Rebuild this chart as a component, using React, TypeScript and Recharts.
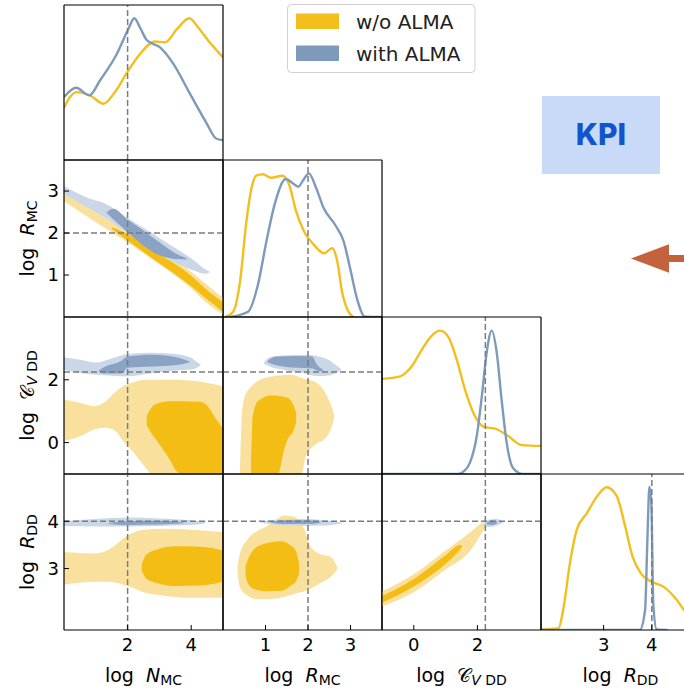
// Corner plot: posterior of MC / DD parameters, with and without ALMA.
import { Area, ComposedChart, Line, ReferenceLine, XAxis, YAxis } from "recharts";

// 1D marginals: [value, scaled density]
const NMC_WITHOUT = [[0, 0.338], [0.2, 0.41], [0.4, 0.438], [0.82, 0.417], [1.24, 0.363], [1.6, 0.438], [2.02, 0.577], [2.39, 0.684], [2.86, 0.765], [3.18, 0.759], [3.55, 0.844], [3.94, 0.915], [4.22, 0.855], [4.54, 0.769], [5, 0.662]];
const NMC_WITH = [[0, 0.406], [0.38, 0.466], [0.8, 0.417], [1.13, 0.513], [1.66, 0.684], [2.02, 0.844], [2.21, 0.915], [2.39, 0.855], [2.6, 0.774], [3.02, 0.726], [3.44, 0.62], [3.96, 0.428], [4.49, 0.235], [4.78, 0.139], [5, 0.128]];
const RMC_WITHOUT = [[0.05, 0], [0.24, 0.034], [0.4, 0.225], [0.55, 0.607], [0.67, 0.82], [0.78, 0.9], [0.94, 0.909], [1.13, 0.887], [1.4, 0.9], [1.56, 0.841], [1.71, 0.682], [1.91, 0.543], [2.14, 0.459], [2.38, 0.406], [2.57, 0.438], [2.69, 0.352], [2.8, 0.161], [2.95, 0.034], [3.07, 0]];
const RMC_WITH = [[0.16, 0], [0.59, 0.034], [0.82, 0.204], [1.02, 0.48], [1.21, 0.713], [1.48, 0.879], [1.64, 0.852], [1.77, 0.83], [1.89, 0.873], [2.02, 0.915], [2.18, 0.83], [2.37, 0.692], [2.64, 0.586], [2.84, 0.48], [2.99, 0.31], [3.15, 0.119], [3.34, 0.002], [3.74, 0]];
const CVDD_WITHOUT = [[-1, 0.606], [-0.43, 0.622], [-0.07, 0.685], [0.25, 0.791], [0.56, 0.88], [0.82, 0.913], [1.08, 0.875], [1.35, 0.728], [1.61, 0.538], [1.92, 0.369], [2.19, 0.302], [2.61, 0.285], [2.97, 0.242], [3.39, 0.184], [4, 0.179]];
const CVDD_WITH = [[-1, 0], [1.4, 0], [1.56, 0.015], [1.77, 0.074], [1.98, 0.242], [2.14, 0.496], [2.29, 0.77], [2.45, 0.913], [2.61, 0.77], [2.76, 0.475], [2.92, 0.2], [3.08, 0.053], [3.24, 0.015], [3.4, 0], [4, 0]];
const RDD_WITHOUT = [[1.71, 0.004], [2.06, 0.01], [2.16, 0.128], [2.3, 0.427], [2.44, 0.641], [2.65, 0.748], [2.86, 0.855], [3.06, 0.915], [3.27, 0.86], [3.45, 0.66], [3.6, 0.47], [3.78, 0.36], [3.99, 0.31], [4.24, 0.278], [4.52, 0.192], [4.67, 0.128], [5, 0.05]];
const RDD_WITH = [[1.7, 0], [3.75, 0], [3.86, 0.128], [3.91, 0.6], [3.95, 0.919], [3.99, 0.81], [4.03, 0.171], [4.1, 0.004], [4.33, 0]];

// 2D credible regions: [x, low, high]
const NMC_RMC_Y_OUT = [[0, 2.76, 2.97], [1, 2.26, 2.5], [2, 1.78, 2.02], [3, 1.25, 1.55], [3.5, 0.98, 1.32], [4, 0.68, 1.08], [4.5, 0.33, 0.76], [5, 0.06, 0.46]];
const NMC_RMC_Y_IN = [[1.5, 2.1, 2.14], [2, 1.82, 1.98], [3, 1.28, 1.48], [3.5, 1.02, 1.26], [4, 0.73, 0.98], [4.5, 0.42, 0.64], [5, 0.12, 0.36]];
const NMC_RMC_B_OUT = [[0, 2.93, 3.12], [0.8, 2.58, 2.82], [1.3, 2.36, 2.7], [2, 2.0, 2.36], [2.7, 1.64, 2.03], [3.2, 1.42, 1.78], [3.7, 1.22, 1.55], [4.1, 1.1, 1.34], [4.45, 1.03, 1.13], [4.58, 1.06, 1.08]];
const NMC_RMC_B_IN = [[1.35, 2.47, 2.5], [1.55, 2.33, 2.58], [2, 2.02, 2.32], [2.5, 1.7, 2.06], [3, 1.47, 1.78], [3.5, 1.38, 1.52], [3.85, 1.37, 1.4]];

const NMC_CVDD_Y_OUT = [[0, 0.05, 1.37], [0.5, 0.2, 1.27], [0.95, 0.42, 1.16], [1.3, 0.47, 1.3], [1.6, 0.38, 1.6], [1.9, 0.0, 1.82], [2.1, -0.21, 1.9], [2.35, -0.52, 1.97], [2.6, -0.84, 2.0], [2.75, -1, 2.0], [3.5, -1, 2.0], [4.2, -1, 1.95], [5, -1, 1.79]];
const NMC_CVDD_Y_IN = [[2.6, 0.55, 0.85], [2.75, 0.3, 1.12], [3.0, -0.05, 1.27], [3.3, -0.5, 1.32], [3.55, -0.92, 1.32], [3.7, -1, 1.32], [4.3, -1, 1.3], [4.55, -1, 1.12], [4.8, -1, 0.72], [5, -1, 0.45]];
const NMC_CVDD_B_OUT = [[0, 2.32, 2.71], [0.5, 2.22, 2.64], [1.0, 2.16, 2.55], [1.5, 2.13, 2.68], [2.0, 2.11, 2.82], [2.7, 2.2, 2.86], [3.5, 2.3, 2.82], [4.0, 2.33, 2.7], [4.2, 2.4, 2.55], [4.3, 2.46, 2.48]];
const NMC_CVDD_B_IN = [[1.1, 2.26, 2.3], [1.3, 2.2, 2.42], [1.8, 2.2, 2.6], [2.0, 2.38, 2.74], [2.8, 2.42, 2.8], [3.6, 2.48, 2.7], [3.95, 2.56, 2.58]];

const NMC_RDD_Y_OUT = [[0, 2.66, 3.35], [1.0, 2.72, 3.32], [1.4, 2.72, 3.4], [2.0, 2.63, 3.7], [2.5, 2.5, 3.82], [3.2, 2.42, 3.84], [4.0, 2.38, 3.82], [5, 2.38, 3.77]];
const NMC_RDD_Y_IN = [[2.45, 2.95, 3.1], [2.6, 2.78, 3.3], [3.0, 2.68, 3.42], [3.5, 2.63, 3.47], [4.3, 2.64, 3.46], [5, 2.72, 3.38]];
const NMC_RDD_B_OUT = [[0, 3.9, 4.0], [1.0, 3.89, 4.05], [2.0, 3.89, 4.08], [3.0, 3.9, 4.06], [4.0, 3.92, 4.02], [4.45, 3.96, 3.98]];
const NMC_RDD_B_IN = [[1.4, 3.95, 3.96], [2.0, 3.92, 4.0], [3.0, 3.93, 4.01], [3.8, 3.96, 3.97]];

const RMC_CVDD_Y_OUT = [[0.4, -1, -0.9], [0.45, -1, 1.0], [0.52, -1, 1.5], [0.67, -1, 1.79], [0.98, -1, 2.06], [1.6, -1, 2.16], [1.85, -1, 2.06], [1.95, -0.42, 2.02], [2.14, -0.1, 1.95], [2.45, 0.21, 1.48], [2.58, 0.6, 1.05], [2.62, 0.83, 0.87]];
const RMC_CVDD_Y_IN = [[0.66, -1, -0.6], [0.7, -1, 0.85], [0.82, -1, 1.32], [1.13, -1, 1.5], [1.29, -1, 1.49], [1.44, -0.21, 1.45], [1.52, 0.1, 1.43], [1.67, 0.42, 1.15], [1.72, 0.65, 0.95]];
const RMC_CVDD_B_OUT = [[0.97, 2.5, 2.56], [1.1, 2.42, 2.72], [1.5, 2.3, 2.78], [1.9, 2.22, 2.8], [2.2, 2.12, 2.76], [2.5, 2.14, 2.62], [2.7, 2.25, 2.42], [2.78, 2.32, 2.34]];
const RMC_CVDD_B_IN = [[1.05, 2.56, 2.6], [1.25, 2.46, 2.74], [1.75, 2.38, 2.76], [2.1, 2.36, 2.74], [2.2, 2.3, 2.5], [2.35, 2.27, 2.32]];

const RMC_RDD_Y_OUT = [[0.34, 2.9, 3.05], [0.4, 2.6, 3.32], [0.59, 2.42, 3.63], [0.82, 2.35, 3.8], [0.98, 2.35, 3.87], [1.2, 2.36, 4.0], [1.44, 2.4, 4.12], [1.71, 2.47, 4.08], [1.91, 2.52, 3.84], [2.06, 2.58, 3.46], [2.3, 2.7, 3.3], [2.53, 2.82, 3.25], [2.68, 2.97, 3.05]];
const RMC_RDD_Y_IN = [[0.53, 2.85, 3.05], [0.6, 2.66, 3.22], [0.74, 2.56, 3.42], [1.0, 2.52, 3.53], [1.37, 2.53, 3.58], [1.6, 2.64, 3.48], [1.71, 2.72, 3.38], [1.79, 2.9, 3.1]];
const RMC_RDD_B_OUT = [[0.9, 3.97, 3.99], [1.2, 3.93, 4.03], [1.8, 3.9, 4.05], [2.4, 3.91, 4.02], [2.8, 3.96, 3.97]];
const RMC_RDD_B_IN = [[1.13, 3.97, 3.99], [1.5, 3.94, 4.02], [2.0, 3.94, 4.02], [2.3, 3.97, 3.98]];

const CVDD_RDD_Y_OUT = [[-1, 2.2, 2.52], [0, 2.5, 2.88], [1.0, 2.98, 3.38], [1.8, 3.4, 3.78], [2.2, 3.82, 3.97], [2.3, 3.93, 3.95]];
const CVDD_RDD_Y_IN = [[-1, 2.28, 2.42], [0, 2.62, 2.78], [1.0, 3.1, 3.28], [1.45, 3.4, 3.5], [1.52, 3.46, 3.48]];
const CVDD_RDD_B_OUT = [[2.2, 3.92, 3.96], [2.35, 3.88, 4.03], [2.55, 3.9, 4.05], [2.75, 3.95, 4.02], [2.82, 3.98, 3.99]];
const CVDD_RDD_B_IN = [[2.28, 3.94, 3.96], [2.45, 3.92, 4.02], [2.62, 3.96, 3.99]];

// parameter axes: N_MC, R_MC, C_VDD, R_DD
const DOMAINS = [[0, 5], [0, 3.74], [-1, 4], [1.7, 5]];
const TICKS = [[2, 4], [1, 2, 3], [0, 2], [3, 4]];
const TRUTH = [2, 2, 2.25, 4];
const TITLE_MAIN = ["N", "R", "\u{1D49E}", "R"];
const TITLE_SUB = ["MC", "MC", "V DD", "DD"];

const LEGEND = ["w/o ALMA", "with ALMA"];

const FONT = "DejaVu Sans";
const Y_LINE = "#f2bf1d";
const B_LINE = "#7e9abb";
const Y_OUT = "#f9e19d";
const Y_IN = "#f4bd14";
const B_OUT = "#cad7e6";
const B_IN = "#8aa3c4";
const TRUTH_C = "#7c7c7c";

const COL_X = [64, 223, 382, 541];
const ROW_Y = [5, 160, 317, 474];
const ROW_H = [155, 157, 157, 156];
const PW = 159;
const AL = 64, AR = 5, AT = 5, AB = 62;

const PANELS = [
  { row: 0, col: 0, lines: [NMC_WITHOUT, NMC_WITH] },
  { row: 1, col: 1, lines: [RMC_WITHOUT, RMC_WITH] },
  { row: 2, col: 2, lines: [CVDD_WITHOUT, CVDD_WITH] },
  { row: 3, col: 3, lines: [RDD_WITHOUT, RDD_WITH] },
  { row: 1, col: 0, regions: [NMC_RMC_Y_OUT, NMC_RMC_Y_IN, NMC_RMC_B_OUT, NMC_RMC_B_IN] },
  { row: 2, col: 0, regions: [NMC_CVDD_Y_OUT, NMC_CVDD_Y_IN, NMC_CVDD_B_OUT, NMC_CVDD_B_IN] },
  { row: 3, col: 0, regions: [NMC_RDD_Y_OUT, NMC_RDD_Y_IN, NMC_RDD_B_OUT, NMC_RDD_B_IN] },
  { row: 2, col: 1, regions: [RMC_CVDD_Y_OUT, RMC_CVDD_Y_IN, RMC_CVDD_B_OUT, RMC_CVDD_B_IN] },
  { row: 3, col: 1, regions: [RMC_RDD_Y_OUT, RMC_RDD_Y_IN, RMC_RDD_B_OUT, RMC_RDD_B_IN] },
  { row: 3, col: 2, regions: [CVDD_RDD_Y_OUT, CVDD_RDD_Y_IN, CVDD_RDD_B_OUT, CVDD_RDD_B_IN] },
];

const REGION_FILLS = [Y_OUT, Y_IN, B_OUT, B_IN];
const LINE_COLORS = [Y_LINE, B_LINE];

function Panel({ row, col, lines, regions }: any) {
  const diag = row === col;
  const tickFont = { fontSize: 18, fontFamily: FONT, fill: "#000" };
  const axisLine = { stroke: "#000", strokeWidth: 1.2 };
  const yDomain = diag ? [0, 1] : DOMAINS[row];
  const yTicks = diag ? [0, 1] : TICKS[row];
  return (
    <div style={{ position: "absolute", left: COL_X[col] - AL, top: ROW_Y[row] - AT }}>
      <ComposedChart width={PW + AL + AR} height={ROW_H[row] + AT + AB} margin={{ top: 0, right: 0, bottom: 0, left: 0 }}>
        <XAxis xAxisId="b" type="number" dataKey="x" domain={DOMAINS[col]} ticks={TICKS[col]} allowDataOverflow interval={0}
          height={AB} stroke="#000" axisLine={axisLine} tickSize={-5} tickMargin={13} tick={row === 3 ? tickFont : false} />
        <XAxis xAxisId="t" orientation="top" type="number" dataKey="x" domain={DOMAINS[col]} ticks={TICKS[col]} allowDataOverflow interval={0}
          height={AT} stroke="#000" axisLine={axisLine} tickSize={-5} tickLine={!diag} tick={false} />
        <YAxis yAxisId="l" type="number" domain={yDomain} ticks={yTicks} allowDataOverflow interval={0}
          width={AL} stroke="#000" axisLine={axisLine} tickSize={-5} tickMargin={10} tickLine={!diag}
          tick={col === 0 && !diag ? tickFont : false} />
        <YAxis yAxisId="r" orientation="right" type="number" domain={yDomain} ticks={yTicks} allowDataOverflow interval={0}
          width={AR} stroke="#000" axisLine={axisLine} tickSize={-5} tickLine={!diag} tick={false} />
        {regions && regions.map((reg: number[][], i: number) => (
          <Area key={"a" + i} xAxisId="b" yAxisId="l" data={reg.map(([x, lo, hi]) => ({ x, r: [lo, hi] }))} dataKey="r"
            type="monotone" stroke="none" fill={REGION_FILLS[i]} fillOpacity={1} isAnimationActive={false} />
        ))}
        {lines && lines.map((ln: number[][], i: number) => (
          <Line key={"l" + i} xAxisId="b" yAxisId="l" data={ln.map(([x, y]) => ({ x, y }))} dataKey="y"
            type="monotone" dot={false} activeDot={false} stroke={LINE_COLORS[i]} strokeWidth={2.4} isAnimationActive={false} />
        ))}
        <ReferenceLine xAxisId="b" yAxisId="l" x={TRUTH[col]} stroke={TRUTH_C} strokeWidth={1.5} strokeDasharray="6 3" />
        {!diag && <ReferenceLine xAxisId="b" yAxisId="l" y={TRUTH[row]} stroke={TRUTH_C} strokeWidth={1.5} strokeDasharray="6 3" />}
      </ComposedChart>
    </div>
  );
}

function titleSpans(i: number) {
  const sub = TITLE_SUB[i];
  return [
    <tspan key="log">log{"\u00a0\u00a0"}</tspan>,
    <tspan key="m" fontStyle={i === 2 ? "normal" : "italic"}>{TITLE_MAIN[i]}</tspan>,
    i === 2 ? (
      <tspan key="s" fontSize={14} dy={3}>
        <tspan fontStyle="italic">V</tspan>{"\u00a0DD"}
      </tspan>
    ) : (
      <tspan key="s" fontSize={14} dy={3}>{sub}</tspan>
    ),
  ];
}

export default function App() {
  return (
    <div style={{ position: "absolute", left: 0, top: 0, width: 684, height: 692, overflow: "hidden", background: "#fff" }}>
      {PANELS.map((p) => <Panel key={`${p.row}-${p.col}`} {...p} />)}
      <svg width={684} height={692} style={{ position: "absolute", left: 0, top: 0, pointerEvents: "none" }}>
        {[0, 1, 2, 3].map((c) => (
          <text key={"xt" + c} x={COL_X[c] + PW / 2} y={682} textAnchor="middle" fontFamily={FONT} fontSize={19} fill="#000">
            {titleSpans(c)}
          </text>
        ))}
        {[1, 2, 3].map((r) => (
          <text key={"yt" + r} transform={`translate(34, ${ROW_Y[r] + ROW_H[r] / 2}) rotate(-90)`} textAnchor="middle"
            fontFamily={FONT} fontSize={19} fill="#000">
            {titleSpans(r)}
          </text>
        ))}
        <rect x={287.5} y={4.5} width={187.5} height={68} rx={4} fill="#fff" stroke="#d0d0d0" />
        {LEGEND.map((label, i) => (
          <g key={label}>
            <rect x={296} y={13.5 + i * 32} width={43} height={15.5} fill={LINE_COLORS[i]} />
            <text x={356} y={29 + i * 32} fontFamily={FONT} fontSize={20} fill="#222">{label}</text>
          </g>
        ))}
        <rect x={542} y={96} width={118} height={78} fill="#c9daf8" />
        <text x={601} y={145} textAnchor="middle" fontFamily="Inter" fontWeight={800} fontSize={30} fill="#1155cc">KPI</text>
        <rect x={668} y={255} width={20} height={7} fill="#c4623e" />
        <polygon points="631,258.5 669,244.3 669,272.7" fill="#c4623e" />
      </svg>
    </div>
  );
}
